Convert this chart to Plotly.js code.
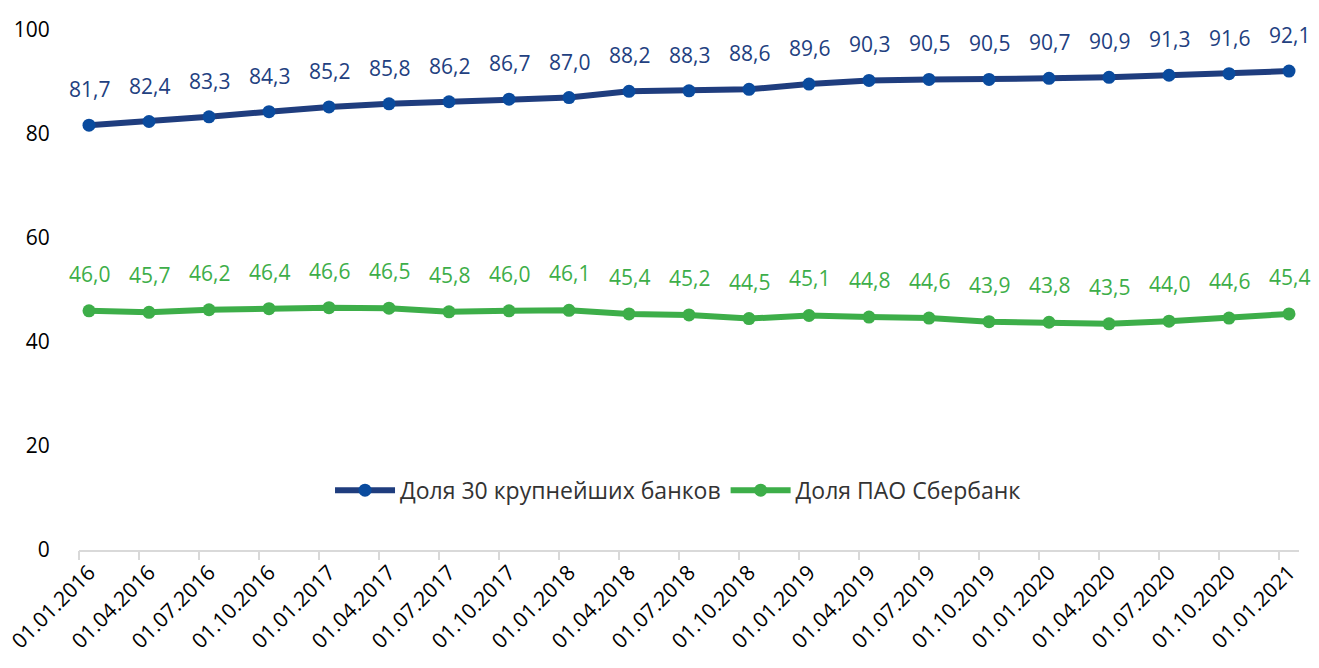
<!DOCTYPE html>
<html>
<head>
<meta charset="utf-8">
<script src="https://cdn.plot.ly/plotly-3.0.1.min.js"></script>
<style>html,body{margin:0;padding:0;background:#fff;}#chart{width:1319px;height:668px;}</style>
</head>
<body>
<div id="chart"></div>
<script>
const dates = ["01.01.2016","01.04.2016","01.07.2016","01.10.2016","01.01.2017","01.04.2017","01.07.2017","01.10.2017","01.01.2018","01.04.2018","01.07.2018","01.10.2018","01.01.2019","01.04.2019","01.07.2019","01.10.2019","01.01.2020","01.04.2020","01.07.2020","01.10.2020","01.01.2021"];
const top30 = [81.7,82.4,83.3,84.3,85.2,85.8,86.2,86.7,87.0,88.2,88.3,88.6,89.6,90.3,90.5,90.5,90.7,90.9,91.3,91.6,92.1];
const sber = [46.0,45.7,46.2,46.4,46.6,46.5,45.8,46.0,46.1,45.4,45.2,44.5,45.1,44.8,44.6,43.9,43.8,43.5,44.0,44.6,45.4];
const seriesNames = ["Доля 30 крупнейших банков","Доля ПАО Сбербанк"];
const yTicks = [0,20,40,60,80,100];

const FONT = "Open Sans, Noto Sans, sans-serif";
const blueLine = "#1F3D7E", blueMarker = "#0A4B9E", blueText = "#22407F";
const green = "#3DAE49";
const idx = dates.map((d,i)=>i);
const fmt = v => v.toFixed(1).replace('.', ',');

const traces = [
  {x: idx, y: top30, name: seriesNames[0], type: 'scatter', mode: 'lines+markers',
   line: {color: blueLine, width: 6}, marker: {color: blueMarker, size: 13}},
  {x: idx, y: sber, name: seriesNames[1], type: 'scatter', mode: 'lines+markers',
   line: {color: green, width: 6}, marker: {color: green, size: 13}},
  {x: idx.map(i=>i-1/6), y: idx.map(()=>null), xaxis: 'x2', yaxis: 'y', showlegend: false,
   hoverinfo: 'skip', mode: 'markers', type: 'scatter'}
];

const annotations = [];
top30.forEach((v,i)=>annotations.push({x:i, y:v, xref:'x', yref:'y', text: fmt(v), showarrow:false,
  yanchor:'middle', yshift:36, font:{family:FONT, size:21, color:blueText}}));
sber.forEach((v,i)=>annotations.push({x:i, y:v, xref:'x', yref:'y', text: fmt(v), showarrow:false,
  yanchor:'middle', yshift:37, font:{family:FONT, size:21, color:green}}));

const xr = [-1/6, dates.length - 1 + 1/6];
const layout = {
  width: 1319, height: 668,
  margin: {l: 79, r: 20, t: 30, b: 118},
  paper_bgcolor: '#fff', plot_bgcolor: '#fff',
  font: {family: FONT, color: '#000'},
  showlegend: true,
  legend: {orientation: 'h', x: 0.491, y: 0.115, xanchor: 'center', yanchor: 'middle',
    font: {family: FONT, size: 23, color: '#333'}, itemwidth: 60, bgcolor: 'rgba(0,0,0,0)'},
  xaxis: {type: 'linear', range: xr, tickmode: 'array', tickvals: idx, ticktext: dates,
    tickangle: -45, ticks: '', showgrid: false, zeroline: false,
    showline: true, linecolor: '#d9d9d9', linewidth: 2,
    tickfont: {family: FONT, size: 21, color: '#000'}},
  xaxis2: {type: 'linear', range: xr, overlaying: 'x', anchor: 'y', side: 'bottom',
    tickmode: 'array', tickvals: idx.map(i=>i-1/6), showticklabels: false,
    ticks: 'outside', ticklen: 9, tickwidth: 2, tickcolor: '#d9d9d9',
    showgrid: false, zeroline: false, showline: false},
  yaxis: {range: [0, 100], tickmode: 'array', tickvals: yTicks, showgrid: false, zeroline: false,
    showline: false, ticks: 'outside', ticklen: 24, tickcolor: 'rgba(0,0,0,0)',
    tickfont: {family: FONT, size: 21, color: '#000'}},
  annotations: annotations
};

Plotly.newPlot('chart', traces, layout, {displayModeBar: false, staticPlot: true});
</script>
</body>
</html>
